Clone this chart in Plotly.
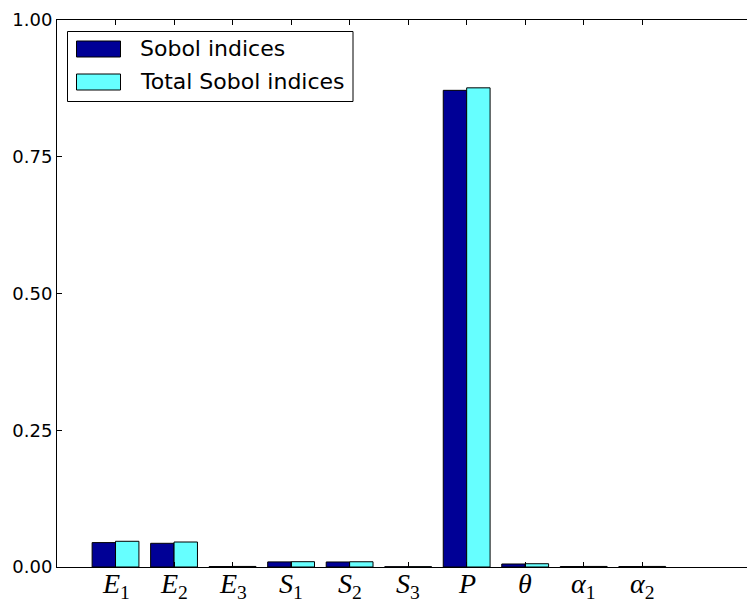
import plotly.graph_objects as go

# ---- data ----
params = ["E1", "E2", "E3", "S1", "S2", "S3", "P", "theta", "alpha1", "alpha2"]
param_labels = ["<i>E</i><sub>1</sub>", "<i>E</i><sub>2</sub>", "<i>E</i><sub>3</sub>",
                "<i>S</i><sub>1</sub>", "<i>S</i><sub>2</sub>", "<i>S</i><sub>3</sub>",
                "<i>P</i>", "<i>θ</i>", "<i>α</i><sub>1</sub>", "<i>α</i><sub>2</sub>"]
sobol = [0.0446, 0.0433, 0.0008, 0.0093, 0.0092, 0.0005, 0.8714, 0.0055, 0.0008, 0.0008]
total_sobol = [0.0470, 0.0457, 0.0010, 0.0097, 0.0096, 0.0006, 0.8760, 0.0060, 0.0010, 0.0010]
series_names = ["Sobol indices", "Total Sobol indices"]
series_colors = ["#000096", "#66FFFF"]
y_ticks = [0.0, 0.25, 0.5, 0.75, 1.0]
y_ticktext = ["0.00", "0.25", "0.50", "0.75", "1.00"]

W, H = 747, 602
L, T, B, R = 57, 20, 35, 0
PW, PH = W - L - R, H - T - B

fig = go.Figure()
for name, vals, col in zip(series_names, [sobol, total_sobol], series_colors):
    fig.add_trace(go.Bar(x=params, y=vals, name=name, marker=dict(color=col, line=dict(color="black", width=1)),
                         showlegend=False))

fig.update_layout(
    width=W, height=H, margin=dict(l=L, r=R, t=T, b=B, autoexpand=False),
    paper_bgcolor="white", plot_bgcolor="white",
    barmode="group", bargap=0.2, bargroupgap=0,
    font=dict(family="DejaVu Sans", size=18, color="black"),
)
fig.update_xaxes(
    type="category", range=[-1, 10.79], automargin=False,
    tickmode="array", tickvals=params, showticklabels=False,
    ticks="inside", ticklen=5, tickcolor="black", tickwidth=1,
    showline=True, linecolor="black", linewidth=1, mirror="ticks",
    showgrid=False, zeroline=False,
)
fig.update_yaxes(
    range=[0, 1.0], automargin=False, tickmode="array", tickvals=y_ticks, ticktext=y_ticktext,
    ticks="inside", ticklen=5, tickcolor="black", tickwidth=1,
    showline=True, linecolor="black", linewidth=1, mirror=False,
    showgrid=False, zeroline=False,
)

# x tick labels as annotations (math-style italic labels)
for p, lab in zip(params, param_labels):
    fig.add_annotation(x=p, xref="x", y=0, yref="paper", text=lab, showarrow=False,
                       xanchor="center", yanchor="top", yshift=1,
                       font=dict(family="Liberation Serif", size=28, color="black"))

# custom legend (matplotlib style) in paper coordinates
def px(x):
    return (x - L) / PW

def py(y):
    return 1 - (y - T) / PH

fig.add_shape(type="rect", xref="paper", yref="paper", x0=px(67.5), x1=px(353), y0=py(101.5), y1=py(31.5),
              line=dict(color="black", width=1), fillcolor="white")
rows = [(41, 57), (74, 90)]
for (y0, y1), name, col in zip(rows, series_names, series_colors):
    fig.add_shape(type="rect", xref="paper", yref="paper", x0=px(76.5), x1=px(120.5), y0=py(y1), y1=py(y0),
                  line=dict(color="black", width=1), fillcolor=col)
    fig.add_annotation(xref="paper", yref="paper", x=px(138), y=py((y0 + y1) / 2), text=name, showarrow=False,
                       xanchor="left", yanchor="middle", font=dict(family="DejaVu Sans", size=22, color="black"))

fig.write_html("out.html")
